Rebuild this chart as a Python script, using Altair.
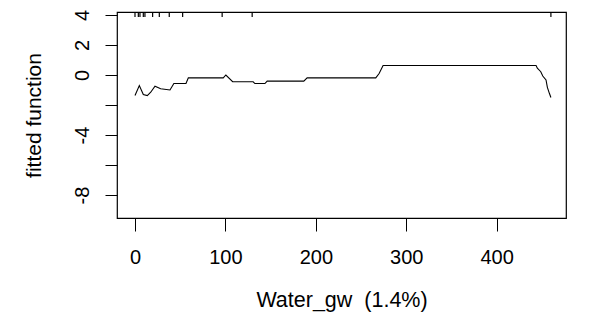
import altair as alt
import pandas as pd

# fitted partial-dependence curve
fit_x = [0, 4.8, 9.2, 13.6, 17.4, 22.1, 28.4, 38.7, 43.0, 56.4, 59.0, 97.6, 100.5,
         108.0, 130.7, 132.6, 143.7, 146.2, 186.7, 190.4, 266.3, 270.0, 274.4,
         443.6, 445.0, 448.8, 451.0, 454.6, 456.1, 458.3, 460.0]
fit_y = [-1.37, -0.70, -1.30, -1.37, -1.15, -0.75, -0.92, -1.00, -0.57, -0.57, -0.19,
         -0.19, 0.00, -0.45, -0.45, -0.57, -0.57, -0.41, -0.41, -0.19, -0.19, 0.10,
         0.63, 0.63, 0.45, 0.22, -0.07, -0.33, -0.82, -1.22, -1.50]

# rug: deciles of the predictor
rug_x = [0, 3.7, 5.5, 9.2, 11.0, 19.5, 26.9, 37.9, 52.7, 96.4, 129.6, 460.0]

x_ticks = [0, 100, 200, 300, 400]
y_ticks = [-8, -6, -4, -2, 0, 2, 4]
y_hidden = [-6, -2]

line_df = pd.DataFrame({"x": fit_x, "y": fit_y})
rug_df = pd.DataFrame({"x": rug_x})

FONT = "Liberation Sans"

xscale = alt.Scale(domain=[-19.9, 476.7], nice=False, zero=False)
yscale = alt.Scale(domain=[-9.533, 4.2], nice=False, zero=False)

hidden_expr = " || ".join(f"datum.value == {v}" for v in y_hidden)

xaxis = alt.Axis(
    title="Water_gw\u00a0 (1.4%)",
    values=x_ticks,
    grid=False,
    domain=False,
    tickSize=13,
    tickColor="black",
    tickWidth=1,
    labelFont=FONT,
    labelFontSize=20,
    labelColor="black",
    labelBaseline="alphabetic",
    labelPadding=32,
    labelExpr="'' + datum.value",
    titleFont=FONT,
    titleFontSize=21.5,
    titleFontWeight="normal",
    titleColor="black",
    titleBaseline="alphabetic",
    titleY=88,
)

yaxis = alt.Axis(
    title="fitted function",
    values=y_ticks,
    grid=False,
    domain=False,
    tickSize=12,
    tickColor="black",
    tickWidth=1,
    labelFont=FONT,
    labelFontSize=20,
    labelColor="black",
    labelAngle=270,
    labelAlign="center",
    labelBaseline="alphabetic",
    labelPadding=17,
    labelExpr=f"{hidden_expr} ? '' : '' + datum.value",
    titleFont=FONT,
    titleFontSize=21,
    titleFontWeight="normal",
    titleColor="black",
    titleAngle=270,
    titleAlign="center",
    titleBaseline="alphabetic",
    titleX=-77,
    titleY=103,
)

line = alt.Chart(line_df).mark_line(color="black", strokeWidth=1.1).encode(
    x=alt.X("x:Q", scale=xscale, axis=xaxis),
    y=alt.Y("y:Q", scale=yscale, axis=yaxis),
)

rug = alt.Chart(rug_df).mark_rule(color="black", strokeWidth=1.2).encode(
    x=alt.X("x:Q", scale=xscale, axis=xaxis),
    y=alt.value(0),
    y2=alt.value(5),
)

chart = (
    alt.layer(line, rug)
    .properties(
        width=449,
        height=206,
        autosize=alt.AutoSizeParams(type="none"),
        padding={"left": 109, "top": 4, "right": 40, "bottom": 98},
        background="white",
    )
    .configure_view(stroke="black", strokeWidth=1.2)
)

chart.save("out.html", embed_options={"renderer": "svg", "actions": False})
